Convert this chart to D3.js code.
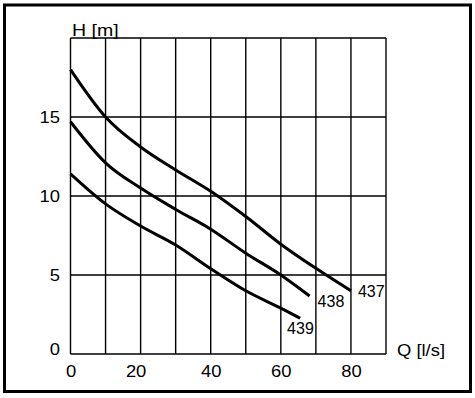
<!DOCTYPE html>
<html>
<head>
<meta charset="utf-8">
<script src="https://cdn.jsdelivr.net/npm/d3@7"></script>
<style>
  html, body { margin: 0; padding: 0; background: #fff; }
  svg text { font-family: "Liberation Sans", Arial, sans-serif; fill: #000; }
</style>
</head>
<body>
<svg id="chart" width="475" height="398"></svg>
<script>
// flow Q [l/s] and head H [m]
const q437 = [0, 10, 20, 30, 40, 50, 60, 70, 80];
const h437 = [18, 15, 13.1, 11.65, 10.3, 8.7, 6.95, 5.42, 4.0];
const q438 = [0, 10, 20, 30, 40, 50, 60, 68.2];
const h438 = [14.7, 12.1, 10.5, 9.15, 7.9, 6.38, 5.0, 3.67];
const q439 = [0, 10, 20, 30, 40, 50, 60, 65.5];
const h439 = [11.4, 9.5, 8.1, 6.9, 5.4, 4.0, 2.9, 2.26];
const curveNames = ['437', '438', '439'];

const xTicks = [0, 20, 40, 60, 80];
const yTicks = [0, 5, 10, 15];
const xGrid = d3.range(0, 91, 10);
const yGrid = [0, 5, 10, 15, 20];

const svg = d3.select('#chart');
const stretch = 1.15; // axis text in the original is a bit wider than Arial

// outer frame
svg.append('rect')
    .attr('x', 4.5).attr('y', 5)
    .attr('width', 466).attr('height', 386.5)
    .attr('fill', 'none').attr('stroke', '#000').attr('stroke-width', 3);

const x = d3.scaleLinear().domain([0, 90]).range([70.5, 386]);
const y = d3.scaleLinear().domain([0, 20]).range([354, 38]);

// grid
const grid = svg.append('g').attr('stroke', '#000').attr('stroke-width', 1.4);
grid.selectAll('.vg').data(xGrid).enter().append('line')
    .attr('x1', d => x(d)).attr('x2', d => x(d))
    .attr('y1', y(0)).attr('y2', y(20));
grid.selectAll('.hg').data(yGrid).enter().append('line')
    .attr('x1', x(0)).attr('x2', x(90))
    .attr('y1', d => y(d)).attr('y2', d => y(d));

// axes (labels only)
const xAxis = svg.append('g')
    .attr('transform', `translate(0,${y(0)})`)
    .call(d3.axisBottom(x).tickValues(xTicks).tickSize(0).tickPadding(11.6));
xAxis.select('.domain').remove();
xAxis.selectAll('text')
    .attr('font-size', 16)
    .attr('transform', `scale(${stretch},1)`)
    .attr('dx', d => d === 20 ? -5 / stretch : 0);

const yAxis = svg.append('g')
    .attr('transform', `translate(${x(0)},0)`)
    .call(d3.axisLeft(y).tickValues(yTicks).tickSize(0));
yAxis.select('.domain').remove();
yAxis.selectAll('text')
    .attr('font-size', 16)
    .attr('x', -10.5 / stretch)
    .attr('transform', `scale(${stretch},1)`)
    .attr('dy', d => d === 0 ? '0.0em' : '0.36em');
svg.selectAll('.tick text').attr('fill', '#000').attr('font-family', '"Liberation Sans", Arial, sans-serif');

svg.append('text')
    .attr('transform', `translate(72,36) scale(${stretch},1)`)
    .attr('font-size', 17).text('H [m]');
svg.append('text')
    .attr('transform', `translate(397,356) scale(${stretch},1)`)
    .attr('font-size', 16).text('Q [l/s]');

// pump curves
const series = [
    { name: curveNames[0], pts: q437.map((q, i) => [q, h437[i]]), dx: 7, dy: 6 },
    { name: curveNames[1], pts: q438.map((q, i) => [q, h438[i]]), dx: 8, dy: 11 },
    { name: curveNames[2], pts: q439.map((q, i) => [q, h439[i]]), dx: -13, dy: 16 }
];

const line = d3.line()
    .x(d => x(d[0])).y(d => y(d[1]))
    .curve(d3.curveMonotoneX);

svg.selectAll('.curve').data(series).enter().append('path')
    .attr('class', 'curve')
    .attr('d', d => line(d.pts))
    .attr('fill', 'none').attr('stroke', '#000')
    .attr('stroke-width', 3);

svg.selectAll('.clabel').data(series).enter().append('text')
    .attr('class', 'clabel')
    .attr('x', d => x(d.pts[d.pts.length - 1][0]) + d.dx)
    .attr('y', d => y(d.pts[d.pts.length - 1][1]) + d.dy)
    .attr('font-size', 16)
    .text(d => d.name);
</script>
</body>
</html>
